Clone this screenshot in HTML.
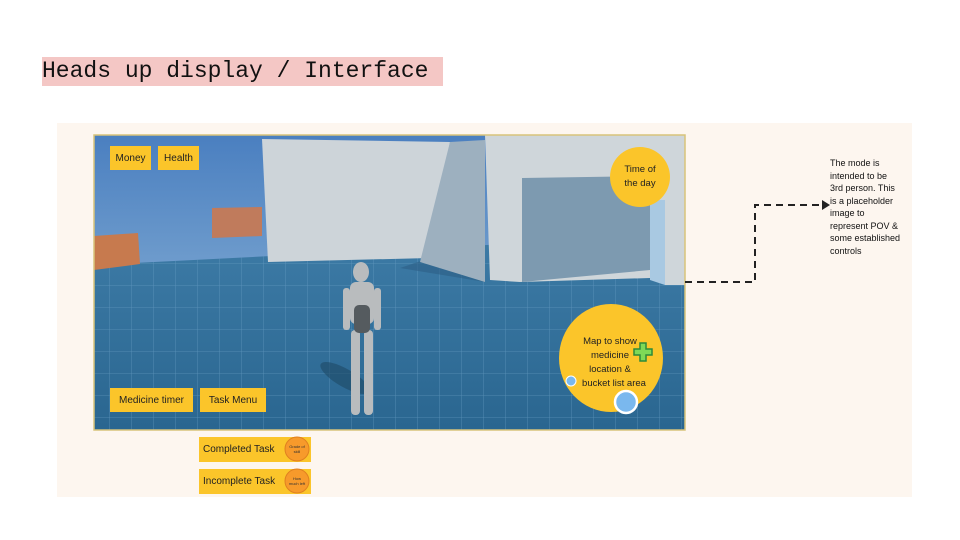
<!DOCTYPE html>
<html><head><meta charset="utf-8"><style>
body{margin:0;width:960px;height:540px;background:#fff;position:relative;overflow:hidden;font-family:"Liberation Sans",sans-serif}
.title{position:absolute;left:42px;top:57px;height:29px;width:401px;background:#f4c7c5;font-family:"Liberation Mono",monospace;font-size:23px;line-height:29px;color:#111;white-space:nowrap}
.panel{position:absolute;left:57px;top:123px;width:855px;height:374px;background:#fdf6ef}
.btn{position:absolute;background:#fbc52a;font-size:10px;color:#222;display:flex;align-items:center;justify-content:center}
.note{position:absolute;left:830px;top:157px;width:90px;font-size:9px;line-height:12.5px;color:#111;white-space:nowrap}
</style></head><body>
<div class="title">Heads up display / Interface</div>
<div class="panel"></div>
<svg style="position:absolute;left:0;top:0" width="960" height="540">
<defs>
<linearGradient id="sky" x1="0" y1="0" x2="0" y2="1"><stop offset="0" stop-color="#4a7fc0"/><stop offset="1" stop-color="#9cc0dc"/></linearGradient>
<linearGradient id="fl" x1="0" y1="0" x2="0" y2="1"><stop offset="0" stop-color="#3d7ba6"/><stop offset="1" stop-color="#2a6690"/></linearGradient>
<pattern id="grid" width="22" height="22" patternUnits="userSpaceOnUse"><path d="M22 0V22M0 22H22" stroke="#6fa3c8" stroke-width="0.8" fill="none"/></pattern>
<clipPath id="c"><rect x="94" y="135" width="591" height="295"/></clipPath>
</defs>
<g clip-path="url(#c)">
<rect x="94" y="135" width="591" height="295" fill="url(#sky)"/>
<polygon points="94,265 685,235 685,430 94,430" fill="url(#fl)"/>
<polygon points="94,265 685,235 685,430 94,430" fill="url(#grid)" opacity="0.7"/>
<polygon points="212,208 262,207 262,236 212,238" fill="#c07b5c"/>
<polygon points="94,236 138,233 140,264 94,270" fill="#c77a4e"/>
<polygon points="430,258 485,260 485,282 400,268" fill="#2d5f85" opacity="0.6"/>
<polygon points="262,139 450,142 430,258 268,262" fill="#cdd4d9"/>
<polygon points="450,142 485,140 485,282 420,262" fill="#9db0bf"/>
<polygon points="485,135 685,135 685,285 665,285 665,200 650,200 650,278 520,282 490,280" fill="#cfd6da"/>
<polygon points="522,178 650,176 650,270 522,282" fill="#7d9ab0"/>
<polygon points="650,200 665,200 665,285 650,280" fill="#a9c9e2"/>
<ellipse cx="345" cy="378" rx="28" ry="9" fill="#1e4a66" opacity="0.6" transform="rotate(30 345 378)"/>
<g fill="#b9bcbe">
<ellipse cx="361" cy="272" rx="8" ry="10"/>
<rect x="350" y="282" width="24" height="42" rx="6"/>
<rect x="343" y="288" width="7" height="42" rx="3"/>
<rect x="374" y="288" width="7" height="42" rx="3"/>
<rect x="351" y="330" width="9" height="85" rx="4"/>
<rect x="364" y="330" width="9" height="85" rx="4"/>
</g>
<rect x="354" y="305" width="16" height="28" rx="5" fill="#555b5f"/>
</g>
<rect x="94" y="135" width="591" height="295" fill="none" stroke="#d8c47a" stroke-width="1.5"/>
<circle cx="640" cy="177" r="30" fill="#fbc52a"/>
<ellipse cx="611" cy="358" rx="52" ry="54" fill="#fbc52a"/>
<circle cx="626" cy="402" r="11" fill="#7ab8ee" stroke="#fff" stroke-width="2.5"/>
<circle cx="571" cy="381" r="5" fill="#7ab8ee" stroke="#fff" stroke-width="1"/>
<path d="M640 343h6v6h6v6h-6v6h-6v-6h-6v-6h6z" fill="#7ed957" stroke="#2d8a3a" stroke-width="1.5"/>
<path d="M685 282H755V205H822" fill="none" stroke="#222" stroke-width="2" stroke-dasharray="7,5"/>
<path d="M822 200l8 5-8 5z" fill="#222"/>
<text font-size="9.5" fill="#222" text-anchor="middle"><tspan x="640" y="172">Time of</tspan><tspan x="640" y="186">the day</tspan></text>
<text font-size="9.5" fill="#222" text-anchor="middle"><tspan x="610" y="344">Map to show</tspan><tspan x="610" y="358">medicine</tspan><tspan x="610" y="372">location &amp;</tspan><tspan x="614" y="386">bucket list area</tspan></text>
</svg>
<div class="btn" style="left:110px;top:146px;width:41px;height:24px">Money</div>
<div class="btn" style="left:158px;top:146px;width:41px;height:24px">Health</div>
<div class="btn" style="left:110px;top:388px;width:83px;height:24px">Medicine timer</div>
<div class="btn" style="left:200px;top:388px;width:66px;height:24px">Task Menu</div>
<div class="btn" style="left:199px;top:437px;width:112px;height:25px;justify-content:flex-start;padding-left:4px;box-sizing:border-box">Completed Task</div>
<div class="btn" style="left:199px;top:469px;width:112px;height:25px;justify-content:flex-start;padding-left:4px;box-sizing:border-box">Incomplete Task</div>
<svg style="position:absolute;left:0;top:0" width="960" height="540">
<circle cx="297" cy="449" r="12" fill="#f79a2b" stroke="#e08020"/>
<circle cx="297" cy="481" r="12" fill="#f79a2b" stroke="#e08020"/>
<text x="297" y="448" font-size="4" text-anchor="middle" fill="#333">Grade of</text>
<text x="297" y="453" font-size="4" text-anchor="middle" fill="#333">skill</text>
<text x="297" y="480" font-size="4" text-anchor="middle" fill="#333">How</text>
<text x="297" y="485" font-size="4" text-anchor="middle" fill="#333">much left</text>
</svg>
<div class="note">The mode is<br>intended to be<br>3rd person. This<br>is a placeholder<br>image to<br>represent POV &amp;<br>some established<br>controls</div>
</body></html>
